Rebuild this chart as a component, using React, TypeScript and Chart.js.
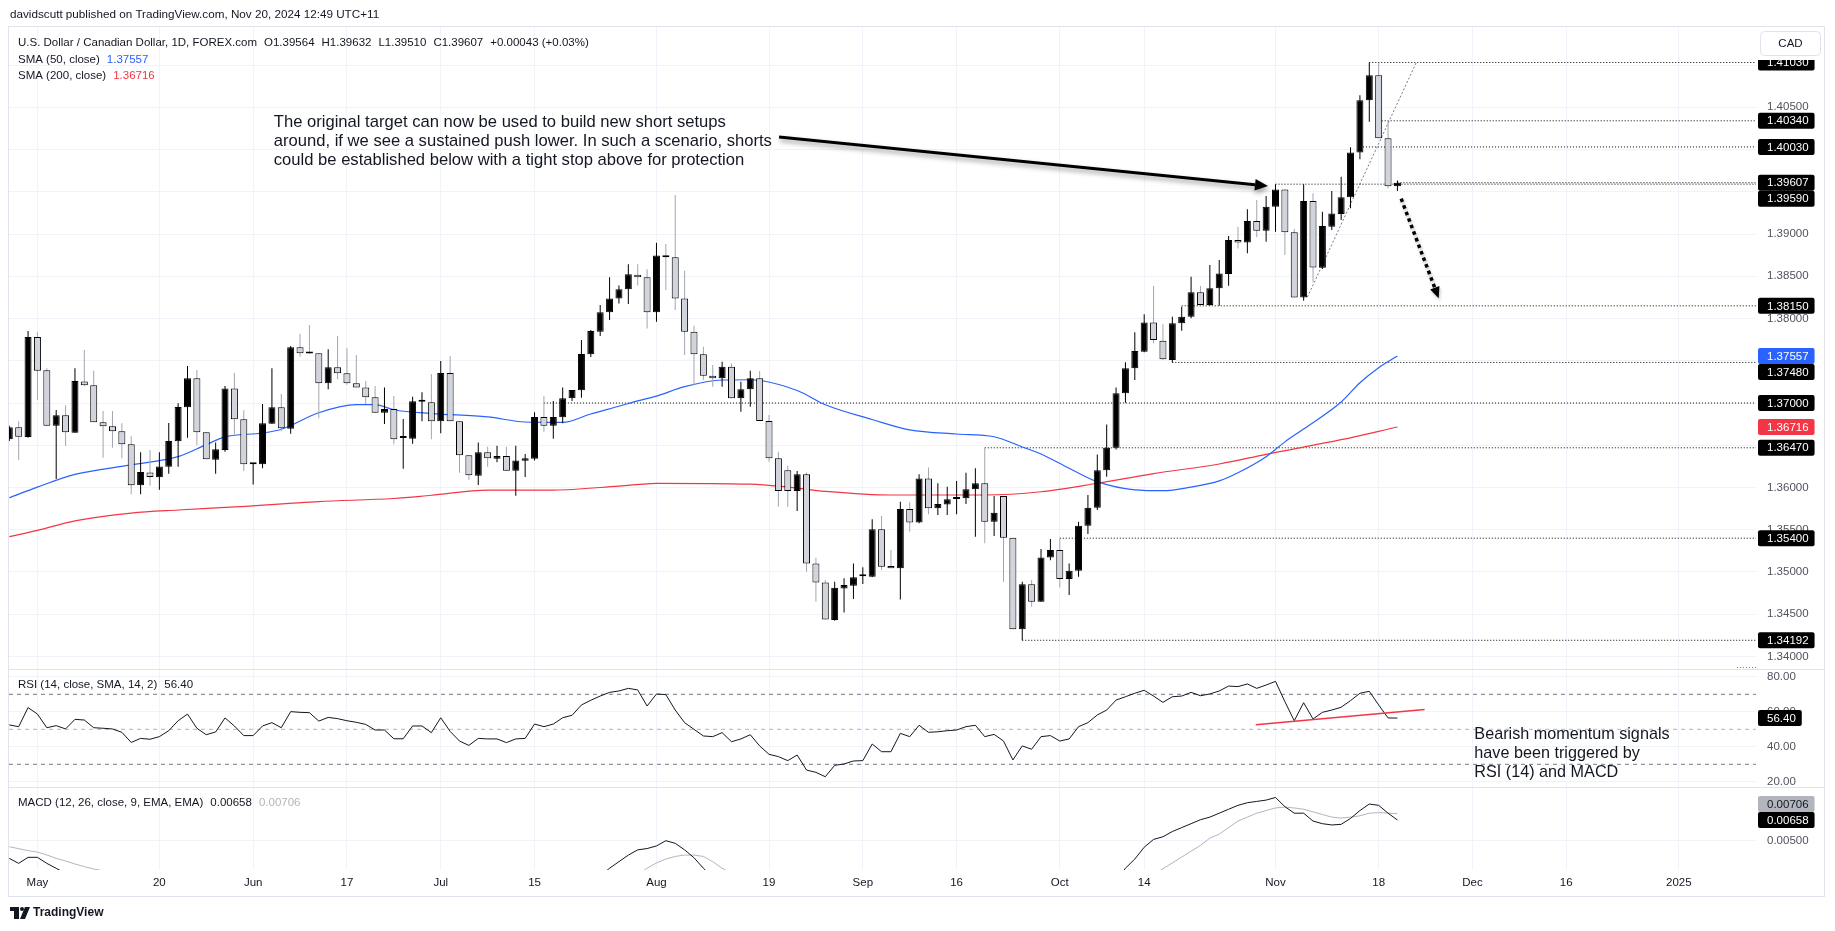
import React, { useEffect, useRef } from 'react';
import { Chart, registerables } from 'chart.js';

Chart.register(...registerables);

const W = 1835;
const H = 931;
const UI_FONT = '"Liberation Sans", Arial, sans-serif';

// ---- daily candles (index 0 = Apr 26 2024, trading days) ----
const open = [
  1.36570, 1.36712, 1.36598, 1.37781, 1.37387, 1.36732, 1.36854, 1.36649, 1.37256, 1.37209,
  1.36771, 1.36724, 1.36665, 1.36511, 1.36026, 1.36179, 1.36120, 1.36246, 1.36546, 1.36949,
  1.37292, 1.36653, 1.36329, 1.36444, 1.37173, 1.36807, 1.36274, 1.36274, 1.36755, 1.36949,
  1.36696, 1.37659, 1.37592, 1.37588, 1.37233, 1.37422, 1.37351, 1.37233, 1.37185, 1.37067,
  1.36886, 1.36929, 1.36586, 1.36578, 1.37016, 1.37008, 1.36783, 1.37355, 1.36783, 1.36381,
  1.36140, 1.36416, 1.36341, 1.36373, 1.36199, 1.36317, 1.36341, 1.36834, 1.36732, 1.36830,
  1.37055, 1.37150, 1.37576, 1.37844, 1.38073, 1.38238, 1.38345, 1.38519, 1.38487, 1.38073,
  1.38747, 1.38724, 1.38238, 1.37844, 1.37576, 1.37323, 1.37292, 1.37430, 1.37055, 1.37162,
  1.37292, 1.36787, 1.36345, 1.36203, 1.35958, 1.36156, 1.35102, 1.34877, 1.34432, 1.34806,
  1.34838, 1.34950, 1.34945, 1.35505, 1.35071, 1.35043, 1.35745, 1.35587, 1.36108, 1.35753,
  1.35800, 1.35864, 1.35872, 1.35978, 1.36049, 1.35595, 1.35899, 1.35406, 1.34321, 1.34854,
  1.34649, 1.35173, 1.35260, 1.34917, 1.35015, 1.35548, 1.35761, 1.36203, 1.36471, 1.37114,
  1.37410, 1.37607, 1.37954, 1.37737, 1.37509, 1.37943, 1.38022, 1.38310, 1.38160, 1.38357,
  1.38526, 1.38929, 1.38901, 1.39154, 1.39040, 1.39323, 1.39528, 1.39020, 1.38250, 1.39390,
  1.38601, 1.39087, 1.39237, 1.39434, 1.39966, 1.40582, 1.40878, 1.40132, 1.39564,
];
const high = [
  1.36730, 1.36783, 1.37852, 1.37836, 1.37410, 1.36917, 1.36972, 1.37410, 1.37627, 1.37383,
  1.36905, 1.36905, 1.36759, 1.36606, 1.36416, 1.36444, 1.36416, 1.36763, 1.36996, 1.37438,
  1.37391, 1.36653, 1.36534, 1.37201, 1.37355, 1.36913, 1.36290, 1.36988, 1.37410, 1.37106,
  1.37675, 1.37821, 1.37923, 1.37588, 1.37635, 1.37793, 1.37647, 1.37568, 1.37260, 1.37201,
  1.37185, 1.37083, 1.36811, 1.37075, 1.37126, 1.37343, 1.37497, 1.37556, 1.36783, 1.36381,
  1.36534, 1.36483, 1.36495, 1.36483, 1.36495, 1.36396, 1.36890, 1.37083, 1.37024, 1.37185,
  1.37154, 1.37746, 1.37864, 1.38160, 1.38487, 1.38392, 1.38641, 1.38641, 1.38582, 1.38897,
  1.38882, 1.39461, 1.38566, 1.37915, 1.37667, 1.37450, 1.37489, 1.37469, 1.37252, 1.37382,
  1.37379, 1.36858, 1.36424, 1.36258, 1.36195, 1.36179, 1.35169, 1.34905, 1.34885, 1.34925,
  1.35102, 1.35055, 1.35623, 1.35662, 1.35260, 1.35832, 1.35824, 1.36156, 1.36238, 1.36049,
  1.36010, 1.36077, 1.36175, 1.36227, 1.36470, 1.35899, 1.35899, 1.35406, 1.34885, 1.34905,
  1.35272, 1.35390, 1.35390, 1.35102, 1.35595, 1.35911, 1.36392, 1.36747, 1.37185, 1.37481,
  1.37836, 1.38049, 1.38384, 1.37931, 1.38022, 1.38140, 1.38495, 1.38385, 1.38633, 1.38692,
  1.38976, 1.39087, 1.39292, 1.39402, 1.39450, 1.39590, 1.39530, 1.39059, 1.39588, 1.39481,
  1.39264, 1.39509, 1.39678, 1.40026, 1.40641, 1.41030, 1.41028, 1.40349, 1.39632,
];
const low = [
  1.36550, 1.36325, 1.36590, 1.37036, 1.36732, 1.36101, 1.36495, 1.36649, 1.37200, 1.36771,
  1.36353, 1.36471, 1.36345, 1.35919, 1.35919, 1.36022, 1.35974, 1.36164, 1.36246, 1.36590,
  1.36499, 1.36333, 1.36164, 1.36424, 1.36629, 1.36195, 1.36037, 1.36227, 1.36755, 1.36665,
  1.36637, 1.37548, 1.37580, 1.36819, 1.37162, 1.37280, 1.37217, 1.37185, 1.36988, 1.36886,
  1.36751, 1.36511, 1.36223, 1.36519, 1.36783, 1.36570, 1.36641, 1.36783, 1.36175, 1.36089,
  1.36030, 1.36246, 1.36298, 1.36199, 1.35903, 1.36124, 1.36321, 1.36661, 1.36578, 1.36759,
  1.37024, 1.37063, 1.37544, 1.37793, 1.37982, 1.38179, 1.38171, 1.38392, 1.37883, 1.37962,
  1.38337, 1.38100, 1.37568, 1.37213, 1.37272, 1.37193, 1.37193, 1.37055, 1.36897, 1.36956,
  1.36787, 1.36305, 1.35773, 1.35773, 1.35722, 1.35004, 1.34649, 1.34439, 1.34424, 1.34522,
  1.34680, 1.34858, 1.34937, 1.35023, 1.35043, 1.34676, 1.35477, 1.35576, 1.35682, 1.35674,
  1.35674, 1.35682, 1.35804, 1.35418, 1.35339, 1.35426, 1.34885, 1.34321, 1.34192, 1.34590,
  1.34649, 1.35140, 1.34818, 1.34728, 1.34945, 1.35450, 1.35733, 1.36128, 1.36451, 1.37004,
  1.37272, 1.37600, 1.37706, 1.37510, 1.37480, 1.37856, 1.38002, 1.38155, 1.38150, 1.38150,
  1.38388, 1.38830, 1.38771, 1.38961, 1.38909, 1.39027, 1.38751, 1.38250, 1.38211, 1.38428,
  1.38586, 1.39047, 1.39166, 1.39304, 1.39884, 1.40329, 1.40132, 1.39540, 1.39510,
];
const close = [
  1.36712, 1.36602, 1.37781, 1.37383, 1.36732, 1.36854, 1.36653, 1.37260, 1.37209, 1.36771,
  1.36724, 1.36665, 1.36511, 1.36026, 1.36183, 1.36124, 1.36250, 1.36550, 1.36953, 1.37292,
  1.36653, 1.36333, 1.36452, 1.37173, 1.36807, 1.36274, 1.36278, 1.36759, 1.36949, 1.36700,
  1.37659, 1.37588, 1.37586, 1.37233, 1.37422, 1.37351, 1.37233, 1.37185, 1.37067, 1.36886,
  1.36929, 1.36570, 1.36590, 1.37020, 1.37024, 1.36783, 1.37355, 1.36783, 1.36381, 1.36144,
  1.36416, 1.36345, 1.36373, 1.36199, 1.36321, 1.36345, 1.36834, 1.36732, 1.36834, 1.37055,
  1.37154, 1.37580, 1.37852, 1.38073, 1.38238, 1.38345, 1.38523, 1.38487, 1.38073, 1.38747,
  1.38724, 1.38238, 1.37844, 1.37576, 1.37323, 1.37292, 1.37430, 1.37055, 1.37162, 1.37292,
  1.36787, 1.36345, 1.35958, 1.35958, 1.36156, 1.35102, 1.34877, 1.34439, 1.34814, 1.34846,
  1.34937, 1.34955, 1.35505, 1.35063, 1.35043, 1.35745, 1.35587, 1.36108, 1.35753, 1.35804,
  1.35860, 1.35868, 1.35978, 1.36049, 1.35595, 1.35702, 1.35406, 1.34321, 1.34854, 1.34649,
  1.35173, 1.35260, 1.34917, 1.35015, 1.35548, 1.35761, 1.36203, 1.36471, 1.37114, 1.37410,
  1.37615, 1.37954, 1.37745, 1.37517, 1.37943, 1.38022, 1.38310, 1.38160, 1.38357, 1.38534,
  1.38929, 1.38901, 1.39154, 1.39040, 1.39323, 1.39528, 1.39020, 1.38250, 1.39390, 1.38605,
  1.39095, 1.39244, 1.39434, 1.39966, 1.40582, 1.40878, 1.40132, 1.39564, 1.39607,
];

// ---- moving averages (read at selected bars) ----
const sma50Idx = [0, 3, 7, 13, 18, 21, 23, 27, 29, 33, 37, 39, 41, 45, 51, 55, 59, 62, 65, 67, 69, 72, 76, 79, 84, 87, 92, 96, 101, 105, 108, 110, 113, 116, 120, 123, 126, 129, 131, 134, 136, 138, 142, 144, 146, 148];
const sma50Val = [1.35879, 1.36005, 1.36155, 1.36268, 1.36365, 1.36507, 1.36600, 1.36645, 1.36690, 1.36885, 1.36980, 1.36980, 1.36920, 1.36875, 1.36836, 1.36775, 1.36770, 1.36870, 1.36962, 1.37025, 1.37082, 1.37193, 1.37272, 1.37275, 1.37148, 1.36980, 1.36805, 1.36682, 1.36633, 1.36601, 1.36480, 1.36397, 1.36228, 1.36069, 1.35972, 1.35962, 1.36005, 1.36078, 1.36175, 1.36365, 1.36540, 1.36692, 1.37012, 1.37240, 1.37418, 1.37557];
const sma200Idx = [0, 3, 7, 13, 18, 24, 33, 41, 45, 51, 58, 65, 69, 79, 83, 87, 94, 104, 110, 116, 122, 129, 134, 142, 148];
const sma200Val = [1.35418, 1.35492, 1.35605, 1.35697, 1.35734, 1.35770, 1.35834, 1.35870, 1.35908, 1.35968, 1.35970, 1.36017, 1.36050, 1.36040, 1.36005, 1.35955, 1.35911, 1.35911, 1.35950, 1.36050, 1.36165, 1.36278, 1.36393, 1.36566, 1.36716];

// ---- RSI (14) ----
const rsi = [
  52.5, 51.5, 62.4, 58.7, 50.9, 52.1, 50.2, 55.7, 55.3, 50.9,
  50.6, 50.2, 48.3, 42.5, 44.8, 44.3, 45.8, 49.2, 54.9, 58.7,
  50.6, 46.9, 48.5, 56.5, 51.9, 46.4, 46.4, 51.9, 53.8, 50.9,
  60.1, 59.7, 59.5, 54.7, 56.8, 56.1, 54.9, 54.0, 52.8, 49.6,
  49.6, 44.6, 44.6, 51.9, 51.9, 48.1, 56.6, 48.8, 43.3, 40.8,
  44.8, 44.5, 44.5, 42.4, 44.5, 44.8, 53.0, 51.5, 53.0, 56.6,
  58.0, 63.9, 66.6, 69.0, 71.1, 71.9, 73.4, 72.5, 63.3, 70.2,
  69.8, 61.0, 53.8, 50.0, 46.2, 45.8, 48.1, 42.9, 44.5, 46.9,
  40.5, 35.7, 34.4, 32.1, 35.3, 26.7, 25.4, 22.9, 29.4, 30.2,
  31.9, 32.1, 41.6, 37.2, 37.2, 47.7, 45.8, 52.3, 48.3, 48.6,
  49.2, 49.6, 51.5, 52.3, 45.8, 47.1, 43.3, 32.5, 40.5, 38.6,
  45.8, 46.4, 43.3, 44.5, 51.5, 53.8, 58.2, 61.0, 66.7, 68.6,
  70.6, 72.3, 69.0, 65.4, 68.6, 69.0, 71.1, 69.2, 70.2, 71.9,
  74.7, 74.4, 75.9, 73.4, 75.3, 77.4, 65.8, 54.9, 65.2, 55.9,
  59.7, 61.0, 62.6, 66.4, 70.6, 71.7, 63.9, 56.5, 56.4,
];
const rsiBands = [70, 50, 30];
const rsiTrendIdx = [132.9, 150.9];
const rsiTrendVal = [52.6, 61.3];

// ---- MACD (12, 26, 9) ----
const macdLine = [
  0.00365, 0.00327, 0.00373, 0.00373, 0.00327, 0.00289, 0.0025, 0.0023, 0.0022, 0.0019,
  0.0016, 0.0013, 0.0010, 0.0005, 0.0002, 0.0000, -0.0001, -0.0001, 0.0001, 0.0004,
  0.0004, 0.0002, 0.0001, 0.0003, 0.0003, 0.0001, -0.0001, 0.0000, 0.0002, 0.0002,
  0.0006, 0.0009, 0.0011, 0.0010, 0.0011, 0.0012, 0.0012, 0.0011, 0.0010, 0.0008,
  0.0006, 0.0003, 0.0001, 0.0002, 0.0003, 0.0002, 0.0004, 0.0002, -0.0001, -0.0004,
  -0.0005, -0.0006, -0.0007, -0.0008, -0.0008, -0.0008, -0.0005, -0.0004, -0.0002, 0.0002,
  0.0005, 0.0010, 0.0016, 0.0023, 0.0029, 0.0034, 0.0039, 0.0043, 0.0044, 0.0046,
  0.0050, 0.0048, 0.0043, 0.0037, 0.0029, 0.0022, 0.0017, 0.0011, 0.0007, 0.0004,
  0.0000, -0.0005, -0.0010, -0.0014, -0.0017, -0.0024, -0.0031, -0.0038, -0.0041, -0.0043,
  -0.0044, -0.0045, -0.0040, -0.0039, -0.0037, -0.0032, -0.0030, -0.0025, -0.0023, -0.0021,
  -0.0019, -0.0017, -0.0014, -0.0012, -0.0012, -0.0011, -0.0013, -0.0019, -0.0019, -0.0020,
  -0.0017, -0.0014, -0.0014, -0.0012, -0.0007, -0.0002, 0.0004, 0.0010, 0.0019, 0.0029,
  0.0036, 0.0045, 0.0051, 0.0053, 0.0057, 0.0060, 0.0063, 0.0066, 0.0068, 0.0071,
  0.0074, 0.0077, 0.0079, 0.0080, 0.0081, 0.0083, 0.0076, 0.0071, 0.0071, 0.0065,
  0.0063, 0.0062, 0.00625, 0.0067, 0.0073, 0.0078, 0.0077, 0.0071, 0.00658,
];
const macdSignal = [
  0.00454, 0.00439, 0.00424, 0.00413, 0.00391, 0.00365, 0.00345, 0.00322, 0.00302, 0.00284,
  0.0027, 0.0025, 0.0023, 0.0021, 0.0018, 0.0015, 0.0012, 0.0010, 0.0008, 0.0007,
  0.0006, 0.0005, 0.0004, 0.0004, 0.0003, 0.0003, 0.0002, 0.0002, 0.0002, 0.0002,
  0.0003, 0.0004, 0.0005, 0.0006, 0.0007, 0.0008, 0.0009, 0.0009, 0.0009, 0.0009,
  0.0009, 0.0008, 0.0007, 0.0006, 0.0005, 0.0004, 0.0004, 0.0004, 0.0003, 0.0001,
  0.0000, -0.0002, -0.0003, -0.0004, -0.0005, -0.0006, -0.0006, -0.0006, -0.0005, -0.0004,
  -0.0002, 0.0000, 0.0003, 0.0007, 0.0011, 0.0015, 0.0019, 0.0024, 0.0029, 0.0033,
  0.0036, 0.0038, 0.0039, 0.0039, 0.0038, 0.0034, 0.0029, 0.0025, 0.0021, 0.0017,
  0.0013, 0.0009, 0.0005, 0.0001, -0.0003, -0.0007, -0.0012, -0.0017, -0.0022, -0.0026,
  -0.0030, -0.0033, -0.0035, -0.0036, -0.0036, -0.0036, -0.0035, -0.0033, -0.0031, -0.0029,
  -0.0027, -0.0025, -0.0023, -0.0021, -0.0019, -0.0017, -0.0016, -0.0016, -0.0017, -0.0017,
  -0.0017, -0.0017, -0.0016, -0.0015, -0.0014, -0.0012, -0.0009, -0.0005, 0.0000, 0.0006,
  0.0012, 0.0019, 0.0024, 0.00286, 0.0033, 0.00375, 0.0042, 0.00464, 0.0052, 0.0055,
  0.0060, 0.0065, 0.0068, 0.0071, 0.0073, 0.0075, 0.00757, 0.0075, 0.0074, 0.0072,
  0.0070, 0.0068, 0.00673, 0.0068, 0.0069, 0.0071, 0.00714, 0.00711, 0.00706,
];

// ---- drawn levels / annotations ----
const levelValues = [1.41030, 1.40340, 1.40030, 1.39607, 1.39590, 1.38150, 1.37480, 1.37000, 1.36470, 1.35400, 1.34192];
const levelStartIdx = [145, 146, 144, 148, 135, 125, 124, 57, 104, 112, 108];
const stubLevelIdx = [184.2];
const stubLevelVal = [1.33870];
const trendIdx = [138.4, 150.05];
const trendVal = [1.38254, 1.41039];
const arrowIdx = [82.07, 134.2];
const arrowVal = [1.40148, 1.39568];
const dotArrowIdx = [148.4, 152.4];
const dotArrowVal = [1.39418, 1.38241];
const note1Lines = [
  'The original target can now be used to build new short setups',
  'around, if we see a sustained push lower. In such a scenario, shorts',
  'could be established below with a tight stop above for protection',
];
const note1Anchor = [28.2, 1.40320];
const note2Lines = ['Bearish momentum signals', 'have been triggered by', 'RSI (14) and MACD'];
const note2Anchor = [156.2, 46.74];

// ---- axes ----
const timeTickIdx = [3, 16, 26, 36, 46, 56, 69, 81, 91, 101, 112, 121, 135, 146, 156, 166, 178];
const timeTickLabels = ['May', '20', 'Jun', '17', 'Jul', '15', 'Aug', '19', 'Sep', '16', 'Oct', '14', 'Nov', '18', 'Dec', '16', '2025'];
const priceGridTicks = [1.340, 1.345, 1.350, 1.355, 1.360, 1.365, 1.370, 1.375, 1.380, 1.385, 1.390, 1.395, 1.400, 1.405, 1.410];
const rsiGridTicks = [20, 40, 60, 80];
const macdGridTicks = [0.005];

const X_MIN = -0.032;
const X_MAX = 186.23;
const PRICE_MIN = 1.33852;
const PRICE_MAX = 1.41450;
const RSI_MIN = 17.03;
const RSI_MAX = 84.46;
const MACD_MIN = 0.002763;
const MACD_MAX = 0.0091;

const last = close.length - 1;
const idx = close.map((_, i) => i);
const isUp = idx.map((i) => close[i] >= open[i]);

function rrect(ctx: any, x: number, y: number, w: number, h: number, r: number) {
  ctx.beginPath();
  ctx.moveTo(x + r, y);
  ctx.arcTo(x + w, y, x + w, y + h, r);
  ctx.arcTo(x + w, y + h, x, y + h, r);
  ctx.arcTo(x, y + h, x, y, r);
  ctx.arcTo(x, y, x + w, y, r);
  ctx.closePath();
}

function drawArrow(ctx: any, x1: number, y1: number, x2: number, y2: number, width: number, head: number, dash: number[] | null) {
  const ang = Math.atan2(y2 - y1, x2 - x1);
  const bx = x2 - Math.cos(ang) * head;
  const by = y2 - Math.sin(ang) * head;
  ctx.lineWidth = width;
  ctx.setLineDash(dash || []);
  ctx.beginPath();
  ctx.moveTo(x1, y1);
  ctx.lineTo(bx, by);
  ctx.stroke();
  ctx.setLineDash([]);
  const hw = head * 0.45;
  ctx.beginPath();
  ctx.moveTo(x2, y2);
  ctx.lineTo(bx + Math.sin(ang) * hw, by - Math.cos(ang) * hw);
  ctx.lineTo(bx - Math.sin(ang) * hw, by + Math.cos(ang) * hw);
  ctx.closePath();
  ctx.fill();
}

function resolveLabels(labels: any[], h: number) {
  const placed: any[] = [];
  for (const l of labels) {
    let y = l.y;
    for (let it = 0; it < 20; it++) {
      const hit = placed.find((p) => Math.abs(p.y - y) < h - 0.01);
      if (!hit) break;
      y = l.y >= hit.y0 ? hit.y + h : hit.y - h;
    }
    placed.push({ ...l, y, y0: l.y });
  }
  return placed;
}

const overlayPlugin = {
  id: 'overlay',
  beforeDraw(chart: any) {
    const ctx = chart.ctx;
    ctx.save();
    ctx.fillStyle = '#ffffff';
    ctx.fillRect(0, 0, chart.width, chart.height);
    ctx.restore();
  },
  afterDraw(chart: any) {
    const ctx = chart.ctx;
    const xs = chart.scales.x;
    const ys = chart.scales.y;
    const yr = chart.scales.yRsi;
    const ym = chart.scales.yMacd;
    const area = chart.chartArea;
    const frameL = 8;
    const frameR = 1824;
    const frameT = 26;
    const frameB = area.bottom + 26;
    const axisX = area.right + 11;
    ctx.save();

    // frame & pane separators
    ctx.strokeStyle = '#e0e3eb';
    ctx.lineWidth = 1;
    [yr.top, ym.top].forEach((y: number) => {
      ctx.beginPath();
      ctx.moveTo(frameL, Math.round(y) + 0.5);
      ctx.lineTo(frameR, Math.round(y) + 0.5);
      ctx.stroke();
    });
    ctx.strokeRect(frameL + 0.5, frameT + 0.5, frameR - frameL, frameB - frameT);

    // header & legends
    ctx.textBaseline = 'middle';
    ctx.textAlign = 'left';
    ctx.font = `11.7px ${UI_FONT}`;
    ctx.fillStyle = '#131722';
    ctx.fillText('davidscutt published on TradingView.com, Nov 20, 2024 12:49 UTC+11', 10, 15);

    const seg = (parts: [string, string][], x0: number, y: number, gap: number) => {
      let x = x0;
      for (const [t, c] of parts) {
        ctx.fillStyle = c;
        ctx.fillText(t, x, y);
        x += ctx.measureText(t).width + gap;
      }
    };
    const chg = close[last] - close[last - 1];
    const pct = (chg / close[last - 1]) * 100;
    const sg = chg >= 0 ? '+' : '';
    ctx.font = `11.5px ${UI_FONT}`;
    seg([
      ['U.S. Dollar / Canadian Dollar, 1D, FOREX.com', '#131722'],
      [`O${open[last].toFixed(5)}`, '#131722'],
      [`H${high[last].toFixed(5)}`, '#131722'],
      [`L${low[last].toFixed(5)}`, '#131722'],
      [`C${close[last].toFixed(5)}`, '#131722'],
      [`${sg}${chg.toFixed(5)} (${sg}${pct.toFixed(2)}%)`, '#131722'],
    ], 18, area.top + 16, 7);
    seg([['SMA (50, close)', '#131722'], [sma50Val[sma50Val.length - 1].toFixed(5), '#2962FF']], 18, area.top + 33, 7);
    seg([['SMA (200, close)', '#131722'], [sma200Val[sma200Val.length - 1].toFixed(5), '#F23645']], 18, area.top + 49, 7);
    seg([['RSI (14, close, SMA, 14, 2)', '#131722'], [rsi[last].toFixed(2), '#131722']], 18, yr.top + 16, 7);
    seg([
      ['MACD (12, 26, close, 9, EMA, EMA)', '#131722'],
      [macdLine[last].toFixed(5), '#131722'],
      [macdSignal[last].toFixed(5), '#b2b5be'],
    ], 18, ym.top + 16, 7);

    // annotation notes
    ctx.fillStyle = '#131722';
    ctx.font = `16.6px ${UI_FONT}`;
    const n1x = xs.getPixelForValue(note1Anchor[0]);
    const n1y = ys.getPixelForValue(note1Anchor[1]);
    note1Lines.forEach((t, k) => ctx.fillText(t, n1x, n1y + k * 18.8));
    ctx.font = `16.2px ${UI_FONT}`;
    const n2x = xs.getPixelForValue(note2Anchor[0]);
    const n2y = yr.getPixelForValue(note2Anchor[1]);
    note2Lines.forEach((t, k) => ctx.fillText(t, n2x, n2y + k * 18.7));

    // arrows
    ctx.save();
    ctx.beginPath();
    ctx.rect(area.left, area.top, area.right - area.left, ys.bottom - area.top);
    ctx.clip();
    ctx.strokeStyle = '#000000';
    ctx.fillStyle = '#000000';
    ctx.shadowColor = 'rgba(0,0,0,0.4)';
    ctx.shadowBlur = 5;
    ctx.shadowOffsetX = 1;
    ctx.shadowOffsetY = 3;
    drawArrow(ctx,
      xs.getPixelForValue(arrowIdx[0]), ys.getPixelForValue(arrowVal[0]),
      xs.getPixelForValue(arrowIdx[1]), ys.getPixelForValue(arrowVal[1]), 3, 13, null);
    ctx.shadowColor = 'rgba(0,0,0,0.25)';
    ctx.shadowBlur = 3;
    ctx.shadowOffsetX = 1;
    ctx.shadowOffsetY = 2;
    drawArrow(ctx,
      xs.getPixelForValue(dotArrowIdx[0]), ys.getPixelForValue(dotArrowVal[0]),
      xs.getPixelForValue(dotArrowIdx[1]), ys.getPixelForValue(dotArrowVal[1]), 3.5, 11, [3.5, 3.5]);
    ctx.restore();

    // price axis grid labels
    ctx.font = `11.5px ${UI_FONT}`;
    ctx.textAlign = 'left';
    ctx.fillStyle = '#50535e';
    const labelX = area.right + 11;
    priceGridTicks.forEach((v) => {
      const y = ys.getPixelForValue(v);
      if (y > ys.top + 6 && y < ys.bottom - 5) ctx.fillText(v.toFixed(5), labelX, y);
    });
    rsiGridTicks.forEach((v) => {
      const y = yr.getPixelForValue(v);
      if (y > yr.top + 3 && y < yr.bottom - 3) ctx.fillText(v.toFixed(2), labelX, y);
    });
    macdGridTicks.forEach((v) => {
      const y = ym.getPixelForValue(v);
      ctx.fillText(v.toFixed(5), labelX, y);
    });

    // value boxes
    const drawBoxes = (list: any[]) => {
      list.forEach((b) => {
        const tw = ctx.measureText(b.text).width;
        ctx.fillStyle = b.bg;
        rrect(ctx, area.right + 2, b.y - 8, tw + 15, 16, 2);
        ctx.fill();
        ctx.fillStyle = b.fg;
        ctx.fillText(b.text, labelX, b.y + 0.5);
      });
    };
    const mainLabels: any[] = [
      { v: close[last], bg: '#000000', fg: '#ffffff' },
      { v: sma50Val[sma50Val.length - 1], bg: '#2962FF', fg: '#ffffff' },
      { v: sma200Val[sma200Val.length - 1], bg: '#F23645', fg: '#ffffff' },
    ];
    levelValues.forEach((v) => {
      if (Math.abs(v - close[last]) > 1e-7) mainLabels.push({ v, bg: '#000000', fg: '#ffffff' });
    });
    drawBoxes(resolveLabels(mainLabels.map((l) => ({ ...l, y: ys.getPixelForValue(l.v), text: l.v.toFixed(5) })), 16));
    drawBoxes([{ y: yr.getPixelForValue(rsi[last]), text: rsi[last].toFixed(2), bg: '#000000', fg: '#ffffff' }]);
    drawBoxes(resolveLabels([
      { v: macdLine[last], bg: '#000000', fg: '#ffffff' },
      { v: macdSignal[last], bg: '#b2b5be', fg: '#131722' },
    ].map((l) => ({ ...l, y: ym.getPixelForValue(l.v), text: l.v.toFixed(5) })), 16));

    // currency box (with its white margin)
    ctx.fillStyle = '#ffffff';
    ctx.fillRect(area.right + 1, area.top + 1, frameR - area.right - 2, 32);
    ctx.strokeStyle = '#e0e3eb';
    rrect(ctx, axisX - 6.5, 31.5, 60, 24, 4);
    ctx.fill();
    ctx.stroke();
    ctx.fillStyle = '#131722';
    ctx.textAlign = 'center';
    ctx.fillText('CAD', axisX + 23.5, 44);

    // time axis labels
    ctx.fillStyle = '#131722';
    ctx.font = `11.5px ${UI_FONT}`;
    timeTickIdx.forEach((t, k) => {
      ctx.fillText(timeTickLabels[k], xs.getPixelForValue(t), area.bottom + 13);
    });

    // logo
    const ly = 913;
    ctx.fillStyle = '#131722';
    ctx.fillRect(10, ly - 6, 9, 4);
    ctx.fillRect(14, ly - 6, 5, 12);
    ctx.beginPath();
    ctx.arc(22, ly - 4, 2, 0, Math.PI * 2);
    ctx.fill();
    ctx.beginPath();
    ctx.moveTo(25, ly - 6);
    ctx.lineTo(30, ly - 6);
    ctx.lineTo(25, ly + 6);
    ctx.lineTo(20, ly + 6);
    ctx.closePath();
    ctx.fill();
    ctx.textAlign = 'left';
    ctx.font = `600 12px ${UI_FONT}`;
    ctx.fillText('TradingView', 33, ly);

    ctx.restore();
  },
};

function lineSet(points: { x: number; y: number }[], color: string, width: number, axis: string, order: number, dash: number[] = [], smooth = false) {
  return {
    type: 'line',
    data: points,
    borderColor: color,
    borderWidth: width,
    borderDash: dash,
    pointRadius: 0,
    pointHoverRadius: 0,
    fill: false,
    yAxisID: axis,
    order,
    cubicInterpolationMode: smooth ? 'monotone' : 'default',
    tension: 0,
  };
}

export default function App() {
  const ref = useRef<HTMLCanvasElement>(null);

  useEffect(() => {
    const datasets: any[] = [
      {
        type: 'bar',
        data: idx.map((i) => ({ x: i, y: [open[i], close[i]] })),
        backgroundColor: idx.map((i) => (isUp[i] ? '#000000' : '#d1d4dc')),
        borderColor: '#000000',
        borderWidth: 1,
        borderSkipped: false,
        barThickness: 7,
        minBarLength: 2,
        grouped: false,
        inflateAmount: 0,
        yAxisID: 'y',
        order: 0,
      },
      {
        type: 'bar',
        data: idx.map((i) => ({ x: i, y: [low[i], high[i]] })),
        backgroundColor: idx.map((i) => (isUp[i] ? '#000000' : '#a3a6af')),
        borderWidth: 0,
        barThickness: 1,
        grouped: false,
        inflateAmount: 0,
        yAxisID: 'y',
        order: 1,
      },
      lineSet(sma50Idx.map((x, k) => ({ x, y: sma50Val[k] })), '#2962FF', 1.2, 'y', 2, [], true),
      lineSet(sma200Idx.map((x, k) => ({ x, y: sma200Val[k] })), '#F23645', 1.2, 'y', 2, [], true),
      ...levelValues.map((v, k) => lineSet([{ x: levelStartIdx[k], y: v }, { x: X_MAX, y: v }], '#000000', 1, 'y', 3, [1, 2])),
      ...stubLevelVal.map((v, k) => lineSet([{ x: stubLevelIdx[k], y: v }, { x: X_MAX, y: v }], '#787b86', 1, 'y', 3, [1, 2])),
      lineSet(trendIdx.map((x, k) => ({ x, y: trendVal[k] })), '#787b86', 1, 'y', 3, [2, 2]),
      ...rsiBands.map((b) => lineSet([{ x: X_MIN, y: b }, { x: X_MAX, y: b }], b === 50 ? '#b2b5be' : '#787b86', 1, 'yRsi', 4, [4, 4])),
      lineSet(rsi.map((v, i) => ({ x: i, y: v })), '#131722', 1, 'yRsi', 2),
      lineSet(rsiTrendIdx.map((x, k) => ({ x, y: rsiTrendVal[k] })), '#F23645', 1.5, 'yRsi', 1),
      lineSet(macdSignal.map((v, i) => ({ x: i, y: v })), '#b2b5be', 1, 'yMacd', 3),
      lineSet(macdLine.map((v, i) => ({ x: i, y: v })), '#131722', 1, 'yMacd', 2),
    ];

    const gridColor = '#f0f3fa';
    const yCommon = (min: number, max: number, ticks: number[], weight: number) => ({
      type: 'linear',
      position: 'right',
      stack: 'panes',
      stackWeight: weight,
      min,
      max,
      beginAtZero: false,
      grid: { color: gridColor, drawTicks: false },
      border: { display: false },
      ticks: { display: false },
      afterBuildTicks: (s: any) => { s.ticks = ticks.map((v) => ({ value: v })); },
      afterFit: (s: any) => { s.width = 68; },
    });

    const chart = new Chart(ref.current as HTMLCanvasElement, {
      type: 'bar',
      data: { datasets },
      options: {
        responsive: false,
        maintainAspectRatio: false,
        devicePixelRatio: 1,
        animation: false,
        events: [],
        layout: { padding: { left: 9, right: 11, top: 27, bottom: 35 } },
        plugins: { legend: { display: false }, tooltip: { enabled: false } },
        scales: {
          x: {
            type: 'linear',
            min: X_MIN,
            max: X_MAX,
            offset: false,
            grid: { color: gridColor, drawTicks: false, offset: false },
            border: { display: false },
            ticks: { display: false },
            afterBuildTicks: (s: any) => { s.ticks = timeTickIdx.map((v) => ({ value: v })); },
            afterFit: (s: any) => { s.height = 26; },
          },
          y: { ...yCommon(PRICE_MIN, PRICE_MAX, priceGridTicks, 642), weight: 1 },
          yRsi: { ...yCommon(RSI_MIN, RSI_MAX, rsiGridTicks, 118), weight: 2 },
          yMacd: { ...yCommon(MACD_MIN, MACD_MAX, macdGridTicks, 83), weight: 3 },
        },
      } as any,
      plugins: [overlayPlugin],
    } as any);
    return () => chart.destroy();
  }, []);

  return (
    <div style={{ position: 'fixed', left: 0, top: 0, width: W, height: H, background: '#ffffff' }}>
      <canvas ref={ref} width={W} height={H} style={{ width: W, height: H, display: 'block' }} />
    </div>
  );
}
